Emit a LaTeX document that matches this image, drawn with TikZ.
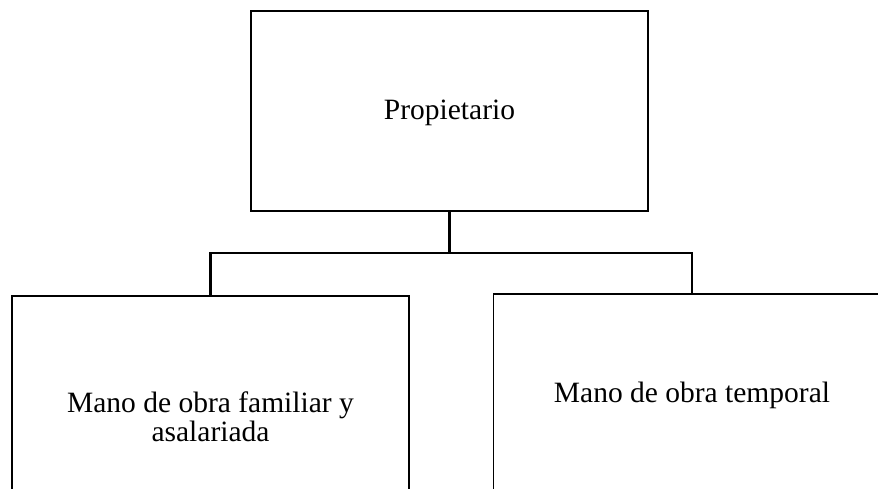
\documentclass[tikz,border=0pt]{standalone}
\usepackage{fontspec}
\setmainfont{Liberation Serif}
\begin{document}
\begin{tikzpicture}[x=1pt,y=-1pt,
  box/.style={draw=black,line width=1.8pt,minimum width=397pt,inner sep=0pt},
  conn/.style={draw=black,line width=2.4pt},
  lbl/.style={font=\fontsize{29.5}{29.5}\selectfont,align=center,inner sep=0pt}]
\useasboundingbox (0,0) rectangle (878,489);
\clip (0,0) rectangle (878,489);
\node[box,minimum height=200pt] (top) at (449.5,111) {};
\node[lbl] (ttop) at (449.5,113) {Propietario};
\node[box,minimum height=260pt] (lb) at (210.5,426) {};
\node[lbl] (tlb) at (210.5,417) {Mano de obra familiar y\\asalariada};
\node[box,minimum height=260pt] (rb) at (692,424) {};
\node[lbl] (trb) at (692,395) {Mano de obra temporal};
\coordinate (j) at (449.5,253);
\draw[conn] (top.south) -- (j);
\draw[conn] (lb.north) |- (j) -| (rb.north);
\end{tikzpicture}
\end{document}
